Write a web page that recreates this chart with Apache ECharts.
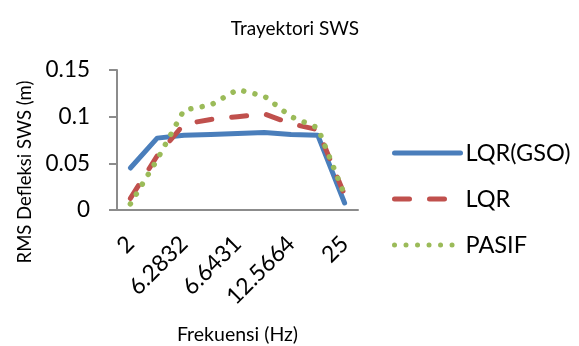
<!DOCTYPE html>
<html>
<head>
<meta charset="utf-8">
<script src="https://cdn.jsdelivr.net/npm/echarts@6/dist/echarts.min.js"></script>
<style>html,body{margin:0;padding:0;background:#fff}#c{width:579px;height:346px}</style>
</head>
<body>
<div id="c"></div>
<script>
var categories = ['2', '4', '6.2832', '6.5', '6.6431', '10', '12.5664', '20', '25'];
var lqrGso = [0.045, 0.077, 0.080, 0.081, 0.082, 0.083, 0.081, 0.080, 0.0075];
var lqr    = [0.0125, 0.058, 0.092, 0.097, 0.100, 0.103, 0.0925, 0.086, 0.016];
var pasif  = [0.0065, 0.054, 0.107, 0.1125, 0.129, 0.122, 0.100, 0.088, 0.016];
var yTicks = [0, 0.05, 0.1, 0.15];

var FONT = 'Lato';
var chart = echarts.init(document.getElementById('c'), null, {renderer: 'canvas'});
chart.setOption({
  animation: false,
  backgroundColor: '#fff',
  textStyle: {fontFamily: FONT, color: '#000'},
  title: {
    text: 'Trayektori SWS', left: 290, top: 14, textAlign: 'center',
    textStyle: {fontFamily: FONT, fontSize: 19, fontWeight: 'normal', color: '#000'}
  },
  legend: {
    orient: 'vertical', left: 387, top: 136, itemWidth: 66, itemHeight: 14, itemGap: 22,
    itemStyle: {opacity: 0},
    lineStyle: {width: 5, cap: 'round'},
    textStyle: {fontFamily: FONT, fontSize: 23.5, color: '#000', padding: [0, 0, 0, 0]},
    data: ['LQR(GSO)', 'LQR', 'PASIF']
  },
  grid: {left: 117, right: 221, top: 70, bottom: 136, containLabel: false, outerBoundsMode: 'none'},
  xAxis: {
    type: 'category', data: categories, boundaryGap: true,
    name: 'Frekuensi (Hz)', nameLocation: 'middle', nameGap: 115,
    nameTextStyle: {fontFamily: FONT, fontSize: 19.5, color: '#000'},
    axisLine: {lineStyle: {color: '#8c8c8c', width: 2}},
    axisTick: {show: false},
    axisLabel: {interval: 1, rotate: 45, margin: 30, fontFamily: FONT, fontSize: 23, color: '#000'}
  },
  yAxis: {
    type: 'value', min: yTicks[0], max: yTicks[yTicks.length - 1], interval: 0.05,
    name: 'RMS Defleksi SWS (m)', nameLocation: 'middle', nameGap: 82,
    nameTextStyle: {fontFamily: FONT, fontSize: 18.5, color: '#000', padding: [0, 64, 0, 0]},
    axisLine: {show: true, lineStyle: {color: '#8c8c8c', width: 2}},
    axisTick: {show: true, inside: false, length: 8, lineStyle: {color: '#8c8c8c', width: 2}},
    splitLine: {show: false},
    axisLabel: {margin: 27, fontFamily: FONT, fontSize: 22.5, color: '#000',
      formatter: function (v) { return String(Math.round(v * 100) / 100); }}
  },
  series: [
    {name: 'LQR(GSO)', type: 'line', data: lqrGso, symbol: 'none', z: 3,
     lineStyle: {color: '#4A7EBB', width: 5, cap: 'round', join: 'round'}, itemStyle: {color: '#4A7EBB'}},
    {name: 'LQR', type: 'line', data: lqr, symbol: 'none', z: 4,
     lineStyle: {color: '#C0504D', width: 5, type: [15, 20], cap: 'round', join: 'round'}, itemStyle: {color: '#C0504D'}},
    {name: 'PASIF', type: 'line', data: pasif, symbol: 'none', z: 5,
     lineStyle: {color: '#9BBB59', width: 5.5, type: [0.01, 11.5], cap: 'round', join: 'round'}, itemStyle: {color: '#9BBB59'}}
  ]
});
</script>
</body>
</html>
